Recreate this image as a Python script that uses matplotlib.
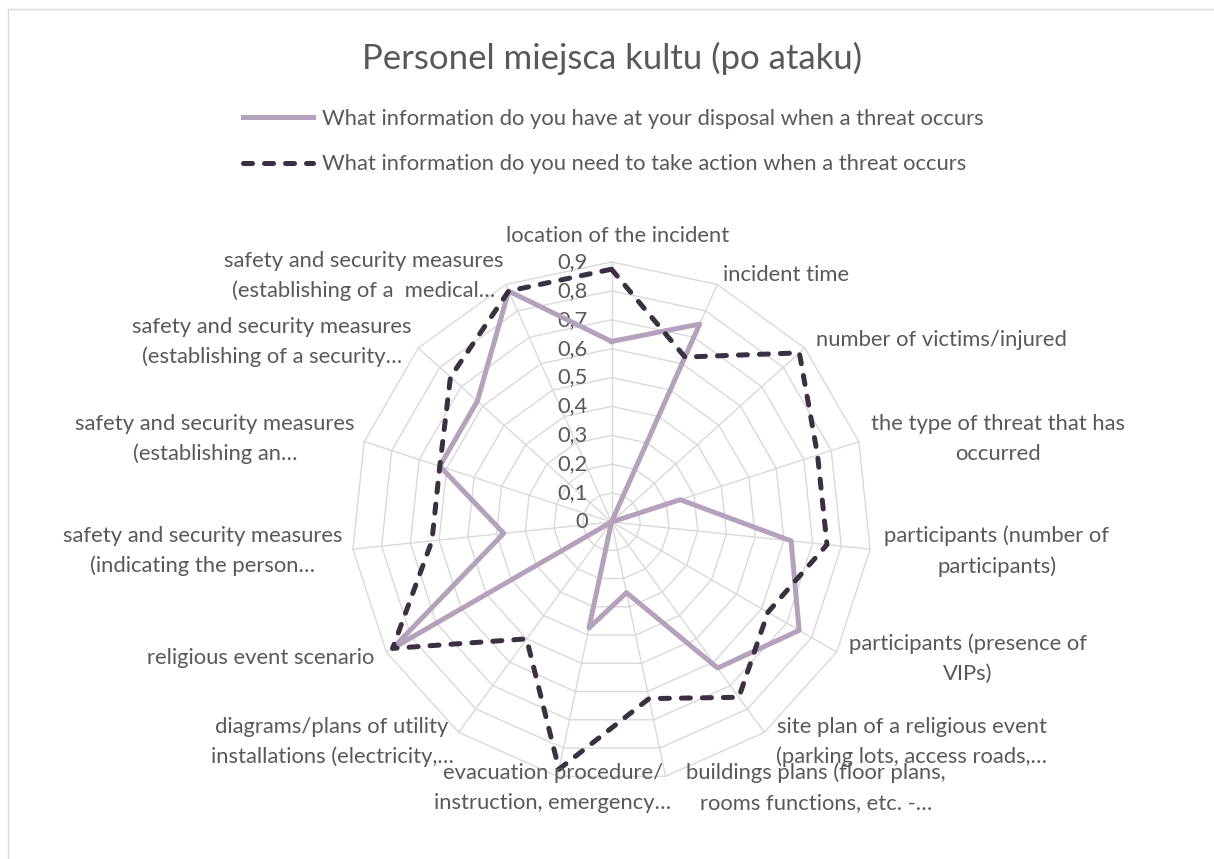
import numpy as np
import matplotlib.pyplot as plt
from matplotlib.patches import Rectangle

W, H = 1214, 859
plt.rcParams['font.family'] = ['Lato', 'DejaVu Sans']

TITLE = "Personel miejsca kultu (po ataku)"

categories = [
    "location of the incident",
    "incident time",
    "number of victims/injured",
    "the type of threat that has\noccurred",
    "participants (number of\nparticipants)",
    "participants (presence of\nVIPs)",
    "site plan of a religious event\n(parking lots, access roads,\u2026",
    "buildings plans (floor plans,\nrooms functions, etc. -\u2026",
    "evacuation procedure/\ninstruction, emergency\u2026",
    "diagrams/plans of utility\ninstallations (electricity,\u2026",
    "religious event scenario",
    "safety and security measures\n(indicating the person\u2026",
    "safety and security measures\n(establishing an\u2026",
    "safety and security measures\n(establishing of a security\u2026",
    "safety and security measures\n(establishing of a  medical\u2026",
]

series_names = [
    "What information do you have at your disposal when a threat occurs",
    "What information do you need to take action when a threat occurs",
]
have_info = [0.625, 0.75, 0.0, 0.25, 0.625, 0.75, 0.625, 0.25, 0.375, 0.0,
             0.875, 0.375, 0.625, 0.625, 0.875]
need_info = [0.875, 0.625, 0.875, 0.75, 0.75, 0.625, 0.75, 0.625, 0.875, 0.5,
             0.875, 0.625, 0.625, 0.75, 0.875]

r_ticks = [0.0, 0.1, 0.2, 0.3, 0.4, 0.5, 0.6, 0.7, 0.8, 0.9]
r_tick_labels = ["0", "0,1", "0,2", "0,3", "0,4", "0,5", "0,6", "0,7", "0,8", "0,9"]

# layout: centre of each category label block, in pixels from top-left
label_pos = [
    (618, 236), (786, 275), (941, 340), (998, 439), (997, 551), (968, 659),
    (912, 742), (816, 788), (553, 788), (332, 742), (261, 658), (203, 551),
    (215, 439), (272, 342), (364, 276),
]

TEXT = '#595959'
GRID = '#D9D9D9'
C_HAVE = '#B4A2BC'
C_NEED = '#3B3042'
FS = 15.8

fig = plt.figure(figsize=(W / 100, H / 100), dpi=100)

# chart frame
fig.patches.append(Rectangle((8 / W, -0.05), 1.2, 1.05 - 9 / H, transform=fig.transFigure,
                             fill=False, edgecolor=GRID, lw=1))

cx, cy, R = 611.5, 522, 260
ax = fig.add_axes([(cx - R) / W, (H - cy - R) / H, 2 * R / W, 2 * R / H], projection='polar')
ax.set_theta_zero_location('N')
ax.set_theta_direction(-1)
ax.set_ylim(0, r_ticks[-1])
ax.grid(False)
ax.set_xticks([])
ax.set_yticks([])
ax.spines['polar'].set_visible(False)
ax.patch.set_alpha(0)

n = len(categories)
theta = np.linspace(0, 2 * np.pi, n, endpoint=False)
theta_c = np.append(theta, theta[0])

# polygon grid + spokes
for lev in r_ticks[1:]:
    ax.plot(theta_c, [lev] * (n + 1), color=GRID, lw=1, clip_on=False, zorder=1)
for t in theta:
    ax.plot([t, t], [0, r_ticks[-1]], color=GRID, lw=1, clip_on=False, zorder=1)

# radial tick labels
for lev, lbl in zip(r_ticks, r_tick_labels):
    ax.annotate(lbl, xy=(0, lev), xytext=(-24 * 0.72, 0), textcoords='offset points',
                ha='right', va='center', fontsize=FS, color=TEXT, zorder=2)

l1, = ax.plot(theta_c, have_info + have_info[:1], color=C_HAVE, lw=3.6,
              solid_joinstyle='round', clip_on=False, zorder=3, label=series_names[0])
l2, = ax.plot(theta_c, need_info + need_info[:1], color=C_NEED, lw=3.6,
              linestyle=(0, (1.8, 2.4)), dash_capstyle='round', dash_joinstyle='round',
              clip_on=False, zorder=4, label=series_names[1])

# category labels
for lbl, (x, y) in zip(categories, label_pos):
    fig.text(x / W, 1 - y / H, lbl, ha='center', va='center', multialignment='center',
             fontsize=FS, color=TEXT, linespacing=1.6)

fig.text(612 / W, 1 - 58 / H, TITLE, ha='center', va='center', fontsize=25,
         color=TEXT)

fig.legend(handles=[l1, l2], loc='upper left', bbox_to_anchor=(243 / W, 1 - 109 / H),
           frameon=False, fontsize=FS, labelcolor=TEXT, handlelength=3.2,
           handletextpad=0.4, labelspacing=1.15, borderpad=0, borderaxespad=0)

fig.savefig('out.png', dpi=100)
